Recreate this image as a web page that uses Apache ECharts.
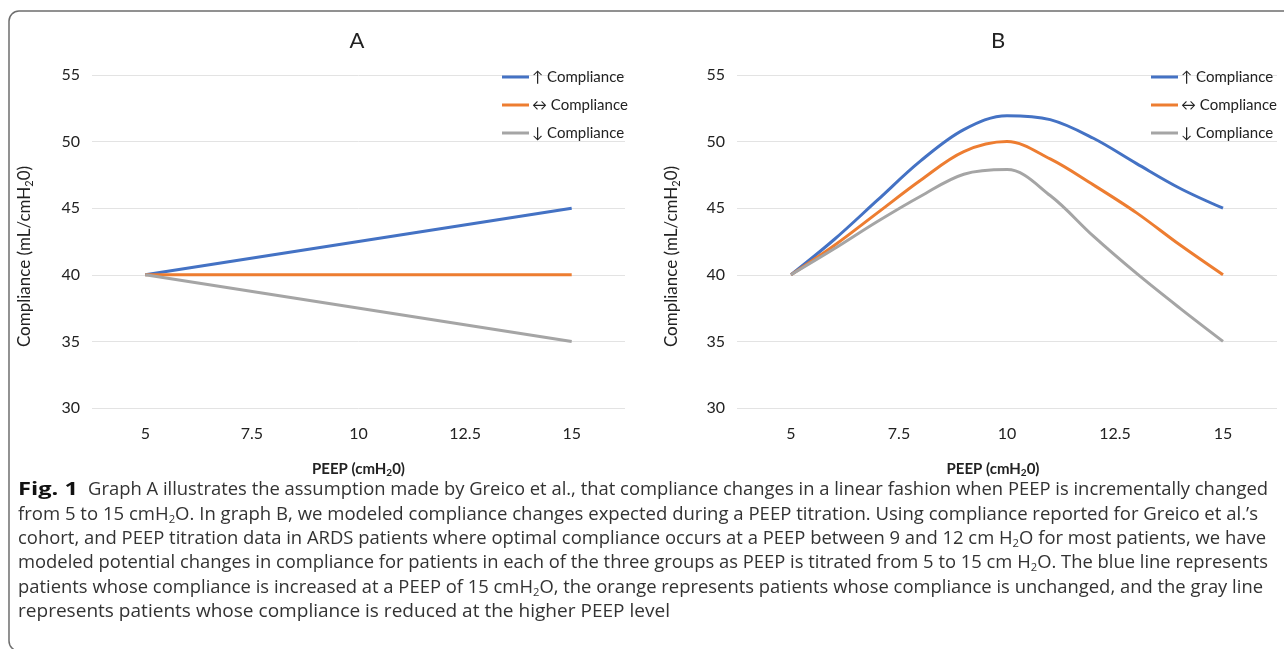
<!DOCTYPE html>
<html>
<head>
<meta charset="utf-8">
<script src="https://cdn.jsdelivr.net/npm/echarts@6/dist/echarts.min.js"></script>
<style>
html,body{margin:0;padding:0;background:#fff;}
#chart{width:1284px;height:649px;}
</style>
</head>
<body>
<div id="chart"></div>
<script>
// ---------- data ----------
const xTickLabels = [5, 7.5, 10, 12.5, 15];
const yMin = 30, yMax = 55, yStep = 5;
const seriesNames = ['\u2191 Compliance', '\u2194 Compliance', '\u2193 Compliance'];

// Graph A (linear assumption)
const aPeep = [5, 15];
const aUp = [40, 45];
const aSame = [40, 40];
const aDown = [40, 35];

// Graph B (modeled titration)
const bPeep = [5, 6, 7, 8, 9, 10, 11, 12, 13, 14, 15];
const bUp = [40, 42.65, 45.6, 48.55, 50.9, 51.95, 51.65, 50.25, 48.35, 46.5, 45];
const bSame = [40, 42.2, 44.65, 47.1, 49.25, 50.0, 48.7, 46.75, 44.65, 42.25, 40];
const bDown = [40, 41.95, 44.0, 45.9, 47.55, 47.9, 45.95, 42.9, 40.1, 37.5, 35];

// caption text (segments: t = text, s = subscript)
const captionLabel = 'Fig. 1';
const captionLines = [
  [['t', 'Graph A illustrates the assumption made by Greico et al., that compliance changes in a linear fashion when PEEP is incrementally changed']],
  [['t', 'from 5 to 15 cmH'], ['s', '2'], ['t', 'O. In graph B, we modeled compliance changes expected during a PEEP titration. Using compliance reported for Greico et al.\u2019s']],
  [['t', 'cohort, and PEEP titration data in ARDS patients where optimal compliance occurs at a PEEP between 9 and 12 cm H'], ['s', '2'], ['t', 'O for most patients, we have']],
  [['t', 'modeled potential changes in compliance for patients in each of the three groups as PEEP is titrated from 5 to 15 cm H'], ['s', '2'], ['t', 'O. The blue line represents']],
  [['t', 'patients whose compliance is increased at a PEEP of 15 cmH'], ['s', '2'], ['t', 'O, the orange represents patients whose compliance is unchanged, and the gray line']],
  [['t', 'represents patients whose compliance is reduced at the higher PEEP level']]
];

// ---------- styling ----------
const colors = ['#4472C4', '#ED7D31', '#A5A5A5'];
const FONT = 'Lato, "Open Sans", sans-serif';
const CAP_FONT = '"Open Sans"';
const captionLeft = [88, 18, 18, 18, 18, 18];
const captionRight = [1268, 1258, 1266, 1268, 1263, 670];
const captionY = [490, 515, 539, 563, 588, 612];
const capSize = {t: 18, s: 11};

const chart = echarts.init(document.getElementById('chart'));

function xAxisFor(gi, shiftLeft) {
  return {
    type: 'value', gridIndex: gi, min: 3.75, max: 16.25, interval: 1.25,
    axisLine: {show: false}, axisTick: {show: false}, splitLine: {show: false},
    axisLabel: {
      color: '#222', fontSize: 16, fontFamily: FONT, margin: 18,
      showMinLabel: true, showMaxLabel: true,
      formatter: v => {
        const hit = xTickLabels.find(t => Math.abs(t - v) < 1e-6);
        return hit === undefined ? '' : String(hit);
      }
    },
    name: '{a|PEEP (cmH}{s|2}{a|0)}',
    nameLocation: 'middle', nameGap: 52,
    nameTextStyle: {
      padding: [0, shiftLeft * 2, 0, 0],
      rich: {
        a: {fontSize: 15, fontWeight: 'bold', color: '#222', fontFamily: FONT},
        s: {fontSize: 10, fontWeight: 'bold', color: '#222', fontFamily: FONT, padding: [8, 0, 0, 0]}
      }
    }
  };
}
function yAxisFor(gi, gap) {
  return {
    type: 'value', gridIndex: gi, min: yMin, max: yMax, interval: yStep,
    axisLine: {show: false}, axisTick: {show: false},
    splitLine: {lineStyle: {color: '#e3e3e3', width: 1}},
    axisLabel: {color: '#222', fontSize: 16, fontFamily: FONT, margin: 12},
    name: '{a|Compliance (mL/cmH}{s|2}{a|0)}',
    nameLocation: 'middle', nameGap: gap, nameRotate: 90,
    nameTextStyle: {
      padding: [0, 30, 0, 0],
      rich: {
        a: {fontSize: 17, color: '#222', fontFamily: FONT},
        s: {fontSize: 11, color: '#222', fontFamily: FONT, padding: [9, 0, 0, 0]}
      }
    }
  };
}
function lineSeries(name, gi, xs, ys, color, smooth) {
  return {
    name: name, type: 'line', xAxisIndex: gi, yAxisIndex: gi,
    data: xs.map((x, i) => [x, ys[i]]),
    showSymbol: false, symbol: 'none', smooth: smooth,
    lineStyle: {color: color, width: 3}, itemStyle: {color: color},
    emphasis: {disabled: true}
  };
}
function legendFor(left) {
  return {
    data: seriesNames, left: left, top: 69, orient: 'vertical', padding: 0,
    itemWidth: 27, itemHeight: 3, itemGap: 12, icon: 'rect',
    textStyle: {fontSize: 15, color: '#222', fontFamily: FONT, padding: [0, 0, 0, -2], lineHeight: 16},
    selectedMode: false
  };
}

// caption graphic
const mctx = document.createElement('canvas').getContext('2d');
const captionGraphics = captionLines.map((segs, li) => {
  let w = 0;
  let txt = '';
  segs.forEach(([k, s]) => {
    mctx.font = capSize[k] + 'px ' + CAP_FONT;
    w += mctx.measureText(s).width;
    txt += '{' + k + '|' + s + '}';
  });
  const target = captionRight[li] - captionLeft[li];
  return {
    type: 'text', x: captionLeft[li], y: captionY[li], scaleX: target / w, silent: true,
    style: {
      text: txt, verticalAlign: 'middle', align: 'left',
      rich: {
        t: {fontSize: capSize.t, fontFamily: CAP_FONT, fill: '#333', lineHeight: 22},
        s: {fontSize: capSize.s, fontFamily: CAP_FONT, fill: '#333', lineHeight: 22, padding: [9, 0, 0, 0]}
      }
    }
  };
});
mctx.font = 'bold 18px ' + CAP_FONT;
const labelW = mctx.measureText(captionLabel).width;
captionGraphics.push({
  type: 'text', x: 18, y: captionY[0], scaleX: 60 / labelW, silent: true,
  style: {text: captionLabel, verticalAlign: 'middle', align: 'left',
          font: 'bold 18px "Open Sans"', fill: '#111'}
});

const option = {
  animation: false,
  backgroundColor: '#fff',
  title: [
    {text: 'A', left: 352, top: 25, textAlign: 'center', textStyle: {fontSize: 22, fontWeight: 'normal', color: '#222', fontFamily: FONT}},
    {text: 'B', left: 993, top: 25, textAlign: 'center', textStyle: {fontSize: 22, fontWeight: 'normal', color: '#222', fontFamily: FONT}}
  ],
  legend: [legendFor(502), legendFor(1151)],
  grid: [
    {left: 92, right: 659, top: 75, bottom: 241},
    {left: 737, right: 7, top: 75, bottom: 241}
  ],
  xAxis: [xAxisFor(0, 0), xAxisFor(1, 14)],
  yAxis: [yAxisFor(0, 57), yAxisFor(1, 55)],
  series: [
    lineSeries(seriesNames[0], 0, aPeep, aUp, colors[0], false),
    lineSeries(seriesNames[1], 0, aPeep, aSame, colors[1], false),
    lineSeries(seriesNames[2], 0, aPeep, aDown, colors[2], false),
    lineSeries(seriesNames[0], 1, bPeep, bUp, colors[0], 0.35),
    lineSeries(seriesNames[1], 1, bPeep, bSame, colors[1], 0.35),
    lineSeries(seriesNames[2], 1, bPeep, bDown, colors[2], 0.35)
  ],
  graphic: [
    {type: 'rect', silent: true, shape: {x: 9, y: 11, width: 1300, height: 640, r: 10},
     style: {fill: 'none', stroke: '#6e6e6e', lineWidth: 1.5}}
  ].concat(captionGraphics)
};
chart.setOption(option);
</script>
</body>
</html>
